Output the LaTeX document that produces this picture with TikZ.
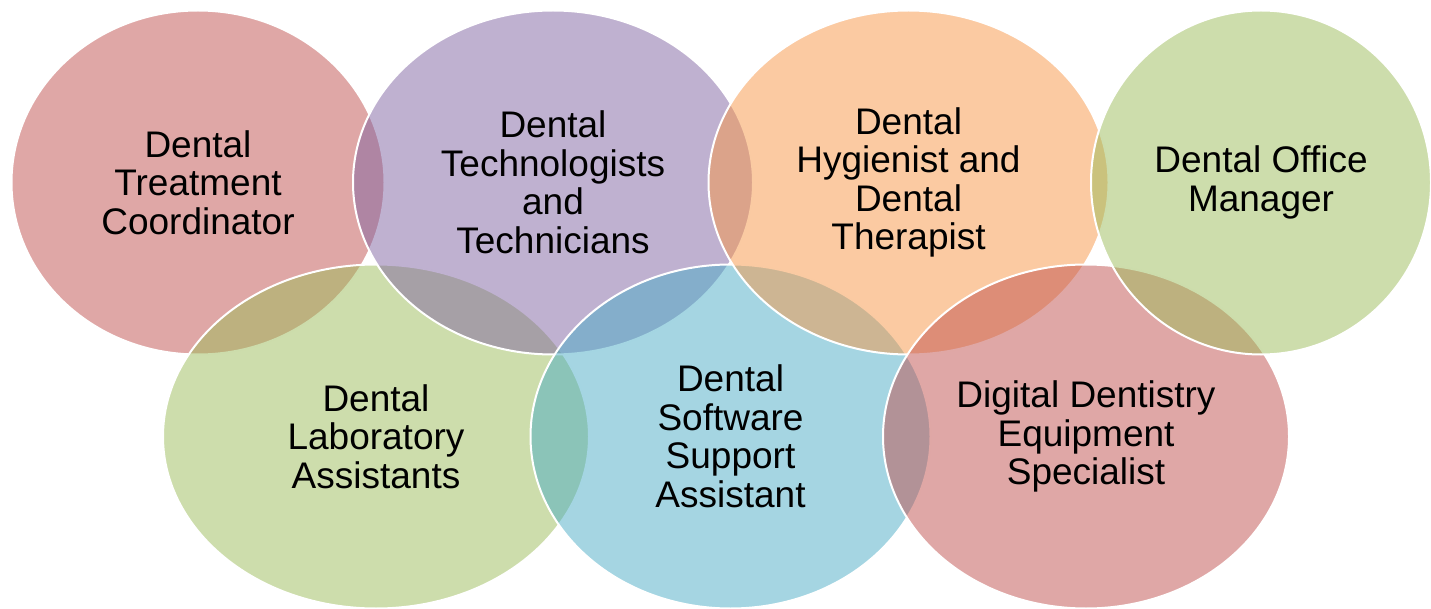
\documentclass[tikz,border=0pt]{standalone}
\usepackage{fontspec}
\setmainfont{Liberation Sans}
\usetikzlibrary{shapes.geometric}
\definecolor{accred}{HTML}{C0504D}
\definecolor{accpurple}{HTML}{8064A2}
\definecolor{accorange}{HTML}{F79646}
\definecolor{accgreen}{HTML}{9BBB59}
\definecolor{accblue}{HTML}{4BACC6}
\tikzstyle{bubble}=[ellipse,draw=white,line width=2pt,fill opacity=0.5,text opacity=1,inner sep=0pt,minimum height=344pt,align=center,font=\fontsize{37}{38.5}\selectfont]

\begin{document}
\begin{tikzpicture}[x=1pt,y=-1pt]
  \useasboundingbox (0,0) rectangle (1431,609);
  \node(coordinator)[bubble,fill=accred,minimum width=373pt] at (198,182.5) {Dental\\Treatment\\Coordinator};
  \node(labasst)[bubble,fill=accgreen,minimum width=426pt] at (376,436.5) {Dental\\Laboratory\\Assistants};
  \node(techs)[bubble,fill=accpurple,minimum width=400pt] at (553,182.5) {Dental\\Technologists\\and\\Technicians};
  \node(software)[bubble,fill=accblue,minimum width=400pt] at (730.5,436.5) {Dental\\Software\\Support\\Assistant};
  \node(hygienist)[bubble,fill=accorange,minimum width=400pt] at (908.5,182.5) {Dental\\Hygienist and\\Dental\\Therapist};
  \node(digital)[bubble,fill=accred,minimum width=406pt] at (1086,436.5) {Digital Dentistry\\Equipment\\Specialist};
  \node(office)[bubble,fill=accgreen,minimum width=340pt] at (1261,182.5) {Dental Office\\Manager};
\end{tikzpicture}
\end{document}
